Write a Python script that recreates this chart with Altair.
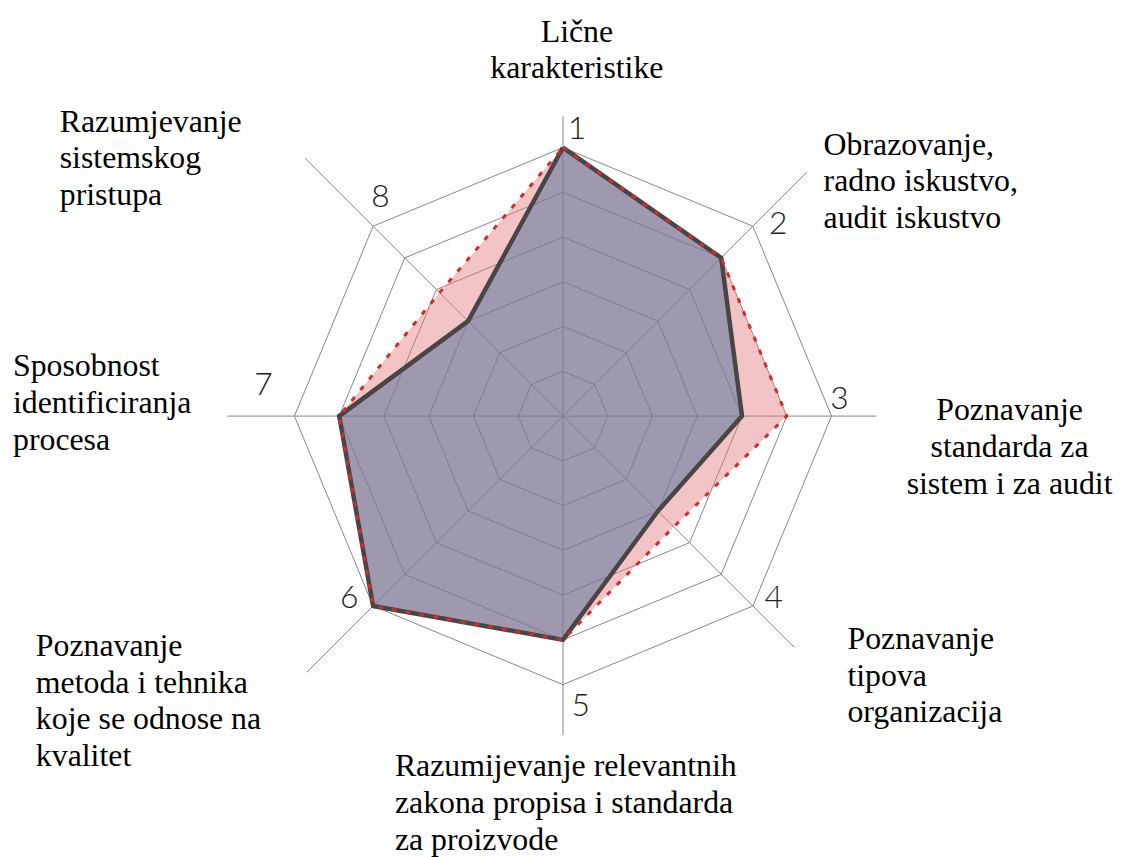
import math
import altair as alt
import pandas as pd

# ---------------- data ----------------
axis_numbers = ["1", "2", "3", "4", "5", "6", "7", "8"]
category_labels = [
    ["Lične", "karakteristike"],
    ["Obrazovanje,", "radno iskustvo,", "audit iskustvo"],
    ["Poznavanje", "standarda za", "sistem i za audit"],
    ["Poznavanje", "tipova", "organizacija"],
    ["Razumijevanje relevantnih", "zakona propisa i standarda", "za proizvode"],
    ["Poznavanje", "metoda i tehnika", "koje se odnose na", "kvalitet"],
    ["Sposobnost", "identificiranja", "procesa"],
    ["Razumjevanje", "sistemskog", "pristupa"],
]
values_dark = [6, 5, 4, 3, 5, 6, 5, 3]          # dark outline, purple fill
values_red = [6, 5, 5, 3.5, 5, 6, 5, 3.9]       # red dotted outline, pink fill
ring_levels = [1, 2, 3, 4, 5, 6]
spoke_extent = [6.7, 7.7, 7.0, 7.3, 7.13, 8.1, 7.5, 8.15]

# ---------------- layout ----------------
W, H = 1105, 841
UNIT = 45.0
CX, CY = 558.0, 408.0
x_dom = [-CX / UNIT, (W - CX) / UNIT]
y_dom = [-(H - CY) / UNIT, CY / UNIT]
xs = alt.Scale(domain=x_dom, nice=False, zero=False)
ys = alt.Scale(domain=y_dom, nice=False, zero=False)

num_label_r = [6.42, 6.44, 6.19, 6.22, 6.5, 6.27, 6.73, 6.37]
num_label_shift = [2.8, 3.3, -3.5, -4.2, -3.5, 4.6, 6.0, 5.2]

# text anchors in image pixels (x, baseline y) and alignment
label_anchor = [
    (580, 39.5, "center"),
    (828, 153, "left"),
    (1015, 420, "center"),
    (852, 650, "left"),
    (397, 778, "left"),
    (36, 657, "left"),
    (13, 376, "left"),
    (60, 130, "left"),
]

SERIF = "Liberation Serif"
n = len(axis_numbers)


def ang(k, shift=0.0):
    return math.radians(k * 360.0 / n + shift)


def polar(r, a):
    return r * math.sin(a), r * math.cos(a)


ring_rows = []
for lv in ring_levels:
    for k in range(n + 1):
        x, y = polar(lv, ang(k % n))
        ring_rows.append({"ring": lv, "k": k, "x": x, "y": y})
rings = pd.DataFrame(ring_rows)

spoke_rows = []
for k in range(n):
    x2, y2 = polar(spoke_extent[k], ang(k))
    spoke_rows.append({"x": 0.0, "y": 0.0, "x2": x2, "y2": y2})
spokes = pd.DataFrame(spoke_rows)


def poly(vals):
    rows = []
    for k in range(n + 1):
        x, y = polar(vals[k % n], ang(k % n))
        rows.append({"k": k, "x": x, "y": y})
    return pd.DataFrame(rows)


dark_df = poly(values_dark)
red_df = poly(values_red)

num_rows = []
for k in range(n):
    x, y = polar(num_label_r[k], ang(k, num_label_shift[k]))
    num_rows.append({"x": x, "y": y, "t": axis_numbers[k]})
nums = pd.DataFrame(num_rows)

lab_rows = []
for k in range(n):
    px, py, al = label_anchor[k]
    lab_rows.append({"x": (px - 8 - CX) / UNIT, "y": (CY - (py - 8)) / UNIT,
                     "t": category_labels[k], "al": al})
labs = pd.DataFrame(lab_rows)

X = lambda f="x:Q": alt.X(f, scale=xs, axis=None)
Y = lambda f="y:Q": alt.Y(f, scale=ys, axis=None)

ring_layer = alt.Chart(rings).mark_line(color="#858585", strokeWidth=1).encode(
    x=X(), y=Y(), detail="ring:N", order="k:Q")
spoke_layer = alt.Chart(spokes).mark_rule(color="#858585", strokeWidth=1).encode(
    x=X(), y=Y(), x2="x2:Q", y2="y2:Q")

pink = alt.Chart(red_df).mark_line(fill="#E47C7E", fillOpacity=0.45, strokeOpacity=0, strokeWidth=0).encode(
    x=X(), y=Y(), order="k:Q")
purple = alt.Chart(dark_df).mark_line(fill="#58769D", fillOpacity=0.55, strokeOpacity=0, strokeWidth=0).encode(
    x=X(), y=Y(), order="k:Q")

dark_line = alt.Chart(dark_df).mark_line(color="#4a4445", strokeWidth=4.5, strokeJoin="miter").encode(
    x=X(), y=Y(), order="k:Q")
red_line = alt.Chart(red_df).mark_line(color="#D42A2A", strokeWidth=3, strokeDash=[5, 9]).encode(
    x=X(), y=Y(), order="k:Q")

num_layer = alt.Chart(nums).mark_text(
    font="Lato", fontWeight=300, fontSize=32, color="#222222", align="center", baseline="middle"
).encode(x=X(), y=Y(), text="t:N")

lab_left = alt.Chart(labs[labs["al"] == "left"]).mark_text(
    font=SERIF, fontSize=32, color="#000000", align="left",
    baseline="alphabetic", lineHeight=37
).encode(x=X(), y=Y(), text="t")
lab_center = alt.Chart(labs[labs["al"] == "center"]).mark_text(
    font=SERIF, fontSize=32, color="#000000", align="center",
    baseline="alphabetic", lineHeight=37
).encode(x=X(), y=Y(), text="t")

chart = alt.layer(
    spoke_layer, ring_layer, pink, purple, dark_line, red_line, num_layer, lab_left, lab_center
).properties(width=W, height=H, padding=0, background="white").configure_view(stroke=None)

chart.save("out.html", embed_options={"renderer": "svg", "actions": False})
